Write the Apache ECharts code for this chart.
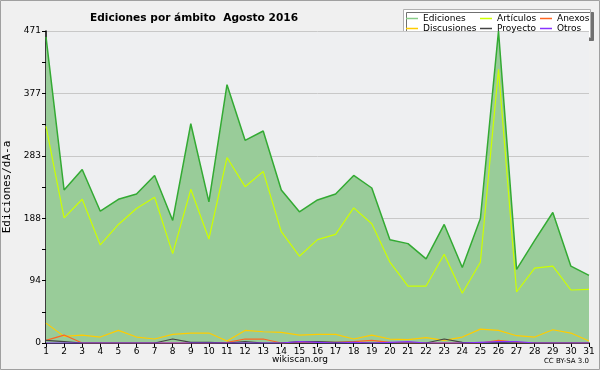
<!DOCTYPE html>
<html><head><meta charset="utf-8">
<script src="https://cdn.jsdelivr.net/npm/echarts@6/dist/echarts.min.js"></script>
<style>html,body{margin:0;padding:0;background:#f0f0f0}#c{width:600px;height:370px}</style>
</head><body><div id="c"></div>
<script>
const days = Array.from({length:31},(_,i)=>i+1);
const ediciones = [462,231,262,199,217,225,253,185,331,213,390,306,320,231,198,216,225,253,234,156,150,127,179,114,188,471,111,155,197,116,102];
const articulos = [327,189,217,148,179,203,220,135,232,157,280,236,259,168,131,156,164,204,180,122,86,86,134,75,122,413,77,113,116,80,81];
const anexos = [4,12,0,0,0,0,0,0,0,0,1,6,6,0,1,1,1,2,4,1,0,0,0,0,0,4,1,0,0,0,0];
const discusiones = [30,10,12,9,19,9,6,13,15,15,3,19,17,16,12,13,13,6,12,6,5,8,4,9,21,19,11,9,20,15,3];
const proyecto = [4,2,0,0,0,0,0,6,1,1,0,2,0,0,2,2,1,1,0,0,0,0,6,1,0,1,0,0,0,0,0];
const otros = [0,0,0,0,0,0,0,0,0,0,0,0,0,0,2,1,0,1,0,1,2,0,0,0,1,2,2,0,0,0,0];
const yTicks = [0,94,188,283,377,471];
const pairs = a => a.map((v,i)=>[days[i],v]);
const chart = echarts.init(document.getElementById('c'));
const font = 'DejaVu Sans';
function ln(name,data,color,w,z,extra){return Object.assign({name,type:'line',data:pairs(data),symbol:'none',z,lineStyle:{color,width:w},itemStyle:{color}},extra||{});}
const legText = {fontFamily:font,fontSize:9,color:'#000',lineHeight:9};
chart.setOption({
  animation:false,
  backgroundColor:'#f0f0f0',
  title:{text:'Ediciones por ámbito  Agosto 2016',left:189,textAlign:'center',top:8,textStyle:{fontFamily:font,fontSize:10.6,fontWeight:'bold',color:'#000'}},
  grid:{left:46,right:11,top:31,bottom:27,show:true,backgroundColor:'#eeeff1',borderWidth:0,outerBoundsMode:'none',containLabel:false},
  xAxis:{type:'value',min:1,max:31,interval:1,
    axisLine:{lineStyle:{color:'#000',width:1.5}},axisTick:{show:true,length:4,lineStyle:{color:'#000'}},
    axisLabel:{fontFamily:font,fontSize:9,color:'#000',margin:4},splitLine:{show:false}},
  yAxis:{type:'value',min:0,max:471,interval:94.2,
    name:'Ediciones/dÃ-a',nameLocation:'middle',nameGap:27,nameTextStyle:{fontFamily:'DejaVu Sans Mono',fontSize:11,color:'#000'},
    axisLine:{show:true,lineStyle:{color:'#000',width:1.5}},axisTick:{show:true,length:4,lineStyle:{color:'#000'}},
    minorTick:{show:true,splitNumber:2,length:4,lineStyle:{color:'#000'}},
    axisLabel:{fontFamily:font,fontSize:9,color:'#000',margin:5,formatter:v=>String(yTicks.reduce((a,b)=>Math.abs(b-v)<Math.abs(a-v)?b:a))},
    splitLine:{show:true,lineStyle:{color:'#c8c8c8',width:1}}},
  legend:[
    {data:[{name:'Ediciones',itemStyle:{color:'#88cc88'}},'Discusiones'],orient:'vertical',left:406,top:14,padding:0,itemWidth:12,itemHeight:1.5,itemGap:1,icon:'rect',textStyle:legText},
    {data:['Artículos','Proyecto'],orient:'vertical',left:480,top:14,padding:0,itemWidth:12,itemHeight:1.5,itemGap:1,icon:'rect',textStyle:legText},
    {data:['Anexos','Otros'],orient:'vertical',left:540,top:14,padding:0,itemWidth:12,itemHeight:1.5,itemGap:1,icon:'rect',textStyle:legText}
  ],
  graphic:[
    {type:'rect',shape:{x:0.5,y:0.5,width:599,height:369},style:{fill:'none',stroke:'#a0a0a0',lineWidth:1},z:100},
    {type:'rect',shape:{x:403.5,y:9.5,width:187,height:28},style:{fill:'#ffffff',stroke:'#b0b0b0',lineWidth:1,shadowColor:'#707070',shadowOffsetX:3,shadowOffsetY:3,shadowBlur:0},z:-1},
    {type:'text',left:'center',top:355,style:{text:'wikiscan.org',fontFamily:font,fontSize:9,fill:'#000'}},
    {type:'text',right:11,top:358,style:{text:'CC BY-SA 3.0',fontFamily:font,fontSize:7,fill:'#000'}}
  ],
  series:[
    ln('Ediciones',ediciones,'#33aa33',1.5,2,{areaStyle:{color:'#99cc99',opacity:1}}),
    ln('Artículos',articulos,'#ccff00',1.2,3),
    ln('Anexos',anexos,'#ff6622',1.2,4),
    ln('Discusiones',discusiones,'#ffcc00',1.2,3),
    ln('Proyecto',proyecto,'#444444',1.2,4),
    ln('Otros',otros,'#8833ff',1.2,4)
  ]
});
</script></body></html>
